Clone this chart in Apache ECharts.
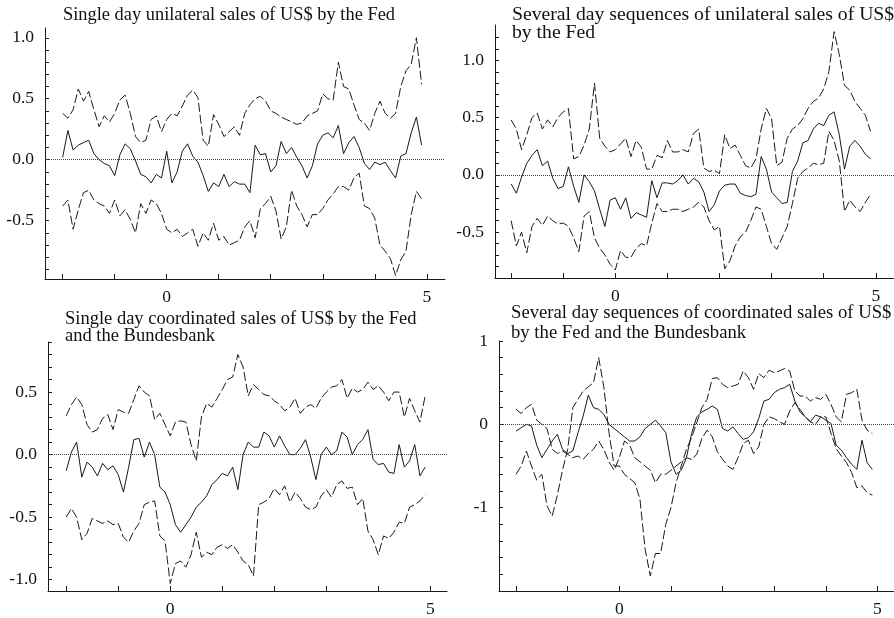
<!DOCTYPE html>
<html>
<head>
<meta charset="utf-8">
<script src="https://cdn.jsdelivr.net/npm/echarts@6/dist/echarts.min.js"></script>
<style>
  html, body { margin: 0; padding: 0; background: #fff; }
  #chart { width: 894px; height: 618px; }
</style>
</head>
<body>
<div id="chart"></div>
<script>
// x grid shared by all four panels
const xs = [-2.0,-1.9,-1.8,-1.7,-1.6,-1.5,-1.4,-1.3,-1.2,-1.1,
  -1.0,-0.9,-0.8,-0.7,-0.6,-0.5,-0.4,-0.3,-0.2,-0.1,
  0.0,0.1,0.2,0.3,0.4,0.5,0.6,0.7,0.8,0.9,
  1.0,1.1,1.2,1.3,1.4,1.5,1.6,1.7,1.8,1.9,
  2.0,2.1,2.2,2.3,2.4,2.5,2.6,2.7,2.8,2.9,
  3.0,3.1,3.2,3.3,3.4,3.5,3.6,3.7,3.8,3.9,
  4.0,4.1,4.2,4.3,4.4,4.5,4.6,4.7,4.8,4.9];

// panel 1: single day unilateral
const p1Mid = [0.02,0.24,0.08,0.12,0.14,0.16,0.05,0.0,-0.03,-0.05,
  -0.13,0.04,0.13,0.09,-0.01,-0.12,-0.14,-0.19,-0.12,-0.15,
  0.07,-0.19,-0.1,0.07,0.13,0.03,-0.02,-0.13,-0.26,-0.19,
  -0.22,-0.12,-0.22,-0.18,-0.2,-0.2,-0.27,0.12,0.04,0.05,
  -0.1,-0.05,0.15,0.05,0.1,0.02,-0.05,-0.15,-0.05,0.13,
  0.2,0.22,0.18,0.28,0.05,0.14,0.19,0.1,-0.03,-0.08,
  -0.02,-0.04,-0.02,-0.09,-0.15,0.03,0.05,0.22,0.35,0.12];
const p1Hi = [0.38,0.34,0.41,0.58,0.48,0.56,0.41,0.27,0.36,0.31,
  0.38,0.49,0.53,0.38,0.19,0.14,0.16,0.33,0.36,0.23,
  0.33,0.38,0.36,0.44,0.53,0.57,0.51,0.16,0.11,0.37,
  0.29,0.19,0.23,0.27,0.2,0.38,0.45,0.5,0.52,0.48,
  0.4,0.38,0.35,0.33,0.31,0.29,0.3,0.36,0.38,0.4,
  0.54,0.5,0.49,0.8,0.6,0.58,0.45,0.33,0.3,0.24,
  0.38,0.48,0.38,0.34,0.38,0.6,0.73,0.78,1.0,0.62];
const p1Lo = [-0.38,-0.33,-0.57,-0.41,-0.27,-0.25,-0.33,-0.36,-0.38,-0.44,
  -0.33,-0.46,-0.41,-0.49,-0.6,-0.36,-0.44,-0.33,-0.36,-0.44,
  -0.57,-0.6,-0.57,-0.63,-0.6,-0.57,-0.71,-0.6,-0.66,-0.52,
  -0.66,-0.63,-0.7,-0.68,-0.66,-0.55,-0.5,-0.64,-0.4,-0.36,
  -0.3,-0.42,-0.65,-0.55,-0.25,-0.38,-0.45,-0.55,-0.45,-0.45,
  -0.4,-0.33,-0.28,-0.22,-0.22,-0.25,-0.15,-0.11,-0.38,-0.4,
  -0.48,-0.7,-0.75,-0.81,-0.95,-0.82,-0.75,-0.45,-0.26,-0.32];

// panel 2: several day unilateral
const p2Mid = [-0.08,-0.16,-0.02,0.1,0.17,0.22,0.08,0.12,-0.03,-0.12,
  -0.1,0.07,-0.1,-0.24,0.0,-0.06,-0.14,-0.3,-0.45,-0.22,
  -0.2,-0.3,-0.2,-0.38,-0.33,-0.35,-0.37,-0.05,-0.2,-0.07,
  -0.07,-0.08,-0.05,0.0,-0.08,-0.03,-0.06,-0.15,-0.32,-0.26,
  -0.14,-0.09,-0.08,-0.08,-0.16,-0.18,-0.19,-0.17,0.16,0.05,
  -0.15,-0.2,-0.25,-0.24,0.03,0.12,0.28,0.3,0.4,0.45,
  0.43,0.52,0.55,0.35,0.05,0.25,0.3,0.25,0.18,0.14];
const p2Hi = [0.48,0.4,0.22,0.35,0.5,0.54,0.4,0.48,0.42,0.5,
  0.55,0.58,0.14,0.16,0.26,0.4,0.8,0.32,0.25,0.2,
  0.22,0.27,0.32,0.16,0.3,0.24,0.05,0.05,0.17,0.15,
  0.3,0.2,0.2,0.22,0.2,0.36,0.4,0.06,0.03,0.04,
  0.01,0.35,0.23,0.26,0.17,0.08,0.06,0.14,0.4,0.58,
  0.49,0.08,0.11,0.32,0.4,0.43,0.49,0.58,0.64,0.67,
  0.75,0.9,1.25,1.05,0.78,0.74,0.64,0.58,0.52,0.38];
const p2Lo = [-0.4,-0.62,-0.5,-0.68,-0.45,-0.38,-0.44,-0.36,-0.4,-0.43,
  -0.42,-0.45,-0.55,-0.67,-0.36,-0.32,-0.55,-0.64,-0.7,-0.78,
  -0.83,-0.66,-0.72,-0.72,-0.64,-0.6,-0.62,-0.42,-0.25,-0.32,
  -0.32,-0.3,-0.3,-0.32,-0.3,-0.28,-0.24,-0.28,-0.4,-0.48,
  -0.45,-0.82,-0.75,-0.62,-0.54,-0.5,-0.4,-0.28,-0.3,-0.45,
  -0.6,-0.65,-0.55,-0.45,-0.25,-0.03,0.03,0.06,0.1,0.09,
  0.1,0.38,0.3,0.12,-0.32,-0.22,-0.28,-0.32,-0.24,-0.17];

// panel 3: single day coordinated
const p3Mid = [-0.13,0.02,0.1,-0.18,-0.06,-0.1,-0.17,-0.07,-0.12,-0.09,
  -0.16,-0.3,-0.1,0.12,0.13,-0.02,0.1,0.0,-0.26,-0.3,
  -0.4,-0.56,-0.62,-0.56,-0.5,-0.42,-0.38,-0.33,-0.24,-0.2,
  -0.15,-0.17,-0.1,-0.28,0.0,0.1,0.06,0.06,0.18,0.15,
  0.06,0.15,0.07,0.0,0.0,0.05,0.12,-0.02,-0.2,0.0,
  0.06,0.0,0.03,0.18,0.14,0.0,0.08,0.12,0.2,-0.04,
  -0.08,-0.07,-0.14,-0.15,0.08,-0.1,-0.05,0.08,-0.17,-0.1];
const p3Hi = [0.31,0.4,0.46,0.4,0.24,0.18,0.2,0.29,0.32,0.2,
  0.36,0.34,0.33,0.44,0.55,0.5,0.47,0.28,0.33,0.24,
  0.15,0.26,0.27,0.26,0.08,-0.05,0.3,0.41,0.38,0.45,
  0.52,0.6,0.62,0.8,0.7,0.47,0.56,0.52,0.48,0.47,
  0.43,0.4,0.35,0.38,0.45,0.33,0.38,0.4,0.37,0.45,
  0.5,0.54,0.55,0.6,0.45,0.53,0.5,0.52,0.58,0.52,
  0.55,0.5,0.43,0.5,0.5,0.3,0.45,0.35,0.26,0.47];
const p3Lo = [-0.5,-0.43,-0.5,-0.68,-0.63,-0.51,-0.53,-0.55,-0.53,-0.56,
  -0.55,-0.66,-0.7,-0.61,-0.55,-0.4,-0.38,-0.37,-0.65,-0.69,
  -1.03,-0.87,-0.85,-0.9,-0.8,-0.62,-0.82,-0.78,-0.8,-0.74,
  -0.72,-0.75,-0.72,-0.78,-0.85,-0.88,-0.97,-0.4,-0.38,-0.35,
  -0.27,-0.32,-0.25,-0.38,-0.3,-0.35,-0.42,-0.44,-0.42,-0.33,
  -0.28,-0.34,-0.24,-0.21,-0.27,-0.26,-0.4,-0.35,-0.61,-0.68,
  -0.8,-0.65,-0.67,-0.62,-0.54,-0.55,-0.42,-0.4,-0.37,-0.32];

// panel 4: several day coordinated
const p4Mid = [-0.08,-0.04,0.0,-0.02,-0.25,-0.4,-0.3,-0.2,-0.12,-0.3,
  -0.35,-0.32,-0.1,0.1,0.35,0.2,0.18,0.12,0.0,-0.05,
  -0.1,-0.15,-0.2,-0.2,-0.15,-0.05,0.0,0.05,-0.02,-0.1,
  -0.45,-0.6,-0.55,-0.4,-0.11,0.09,0.15,0.18,0.22,0.18,
  -0.05,-0.08,-0.03,-0.11,-0.18,-0.16,-0.09,0.07,0.28,0.3,
  0.38,0.42,0.44,0.48,0.28,0.15,0.09,0.03,0.11,0.09,
  0.05,0.01,-0.25,-0.31,-0.4,-0.48,-0.54,-0.19,-0.46,-0.54];
const p4Hi = [-0.6,-0.5,-0.32,-0.5,-0.67,-0.6,-0.98,-1.1,-0.85,-0.55,
  -0.3,0.2,0.3,0.4,0.45,0.5,0.8,0.45,-0.1,-0.5,
  -0.5,-0.6,-0.65,-0.7,-0.9,-1.5,-1.82,-1.55,-1.55,-1.2,
  -1.0,-0.7,-0.5,-0.3,-0.16,0.02,0.2,0.3,0.55,0.56,
  0.48,0.44,0.46,0.48,0.64,0.56,0.42,0.61,0.56,0.65,
  0.62,0.64,0.67,0.64,0.4,0.34,0.34,0.28,0.32,0.3,
  0.36,0.24,0.09,0.03,0.36,0.38,0.42,0.05,-0.07,-0.11];
const p4Lo = [0.18,0.13,0.2,0.24,0.05,0.0,-0.05,-0.3,-0.35,-0.32,
  -0.36,-0.4,-0.38,-0.42,-0.35,-0.3,-0.2,-0.3,-0.45,-0.55,
  -0.4,-0.2,-0.25,-0.4,-0.45,-0.5,-0.55,-0.7,-0.6,-0.6,
  -0.55,-0.5,-0.45,-0.4,-0.42,-0.36,-0.17,-0.07,-0.15,-0.33,
  -0.42,-0.5,-0.54,-0.4,-0.23,-0.19,-0.35,-0.27,0.0,0.09,
  0.07,0.03,0.0,0.16,0.26,0.18,0.09,0.03,0.0,0.09,
  0.09,-0.11,-0.29,-0.38,-0.46,-0.58,-0.76,-0.74,-0.82,-0.85];

// axis ticks and labels
const xTicks = [-2,-1,0,1,2,3,4,5];
const xLabels = [0,5];
const y1Ticks = [-0.9,-0.8,-0.7,-0.6,-0.5,-0.4,-0.3,-0.2,-0.1,0,0.1,0.2,0.3,0.4,0.5,0.6,0.7,0.8,0.9,1.0];
const y1Labels = [-0.5,0,0.5,1.0];
const y2Ticks = [-0.8,-0.7,-0.6,-0.5,-0.4,-0.3,-0.2,-0.1,0,0.1,0.2,0.3,0.4,0.5,0.6,0.7,0.8,0.9,1.0,1.1,1.2];
const y2Labels = [-0.5,0,0.5,1.0];
const y3Ticks = [-1.0,-0.9,-0.8,-0.7,-0.6,-0.5,-0.4,-0.3,-0.2,-0.1,0,0.1,0.2,0.3,0.4,0.5,0.6,0.7,0.8,0.9];
const y3Labels = [-1.0,-0.5,0,0.5];
const y4Ticks = [-1.8,-1.6,-1.4,-1.2,-1.0,-0.8,-0.6,-0.4,-0.2,0,0.2,0.4,0.6,0.8,1.0];
const y4Labels = [-1,0,1];

const titles = [
  "Single day unilateral sales of US$ by the Fed",
  "Several day sequences of unilateral sales of US$\nby the Fed",
  "Single day coordinated sales of US$ by the Fed\nand the Bundesbank",
  "Several day sequences of coordinated sales of US$\nby the Fed and the Bundesbank"
];

const FONT = "Liberation Serif";
const INK = "#1a1a1a";

const grids = [
  { left: 45, top: 28, width: 400, height: 251 },
  { left: 495, top: 25, width: 400, height: 253 },
  { left: 48, top: 342, width: 399, height: 254 },
  { left: 499, top: 341, width: 400, height: 255 }
];
const xRanges = [[-2.34, 5.35], [-2.31, 5.35], [-2.35, 5.32], [-2.33, 5.32]];
const yRanges = [[-0.978, 1.08], [-0.90, 1.308], [-1.09, 0.90], [-2.0, 1.0]];
const yTickSets = [y1Ticks, y2Ticks, y3Ticks, y4Ticks];
const yLabelSets = [y1Labels, y2Labels, y3Labels, y4Labels];

function xAxis(i) {
  return {
    type: "value", gridIndex: i, min: xRanges[i][0], max: xRanges[i][1],
    splitLine: { show: false },
    axisLine: { onZero: false, lineStyle: { color: INK, width: 1 } },
    axisTick: { inside: true, length: 5, customValues: xTicks, lineStyle: { color: INK } },
    axisLabel: { customValues: xLabels, margin: 9, fontSize: 17.5, fontFamily: FONT, color: "#111" }
  };
}

function yAxis(i) {
  return {
    type: "value", gridIndex: i, min: yRanges[i][0], max: yRanges[i][1],
    splitLine: { show: false },
    axisLine: { onZero: false, lineStyle: { color: INK, width: 1 } },
    axisTick: { inside: true, length: 4, customValues: yTickSets[i], lineStyle: { color: INK } },
    axisLabel: {
      customValues: yLabelSets[i], margin: 11, fontSize: 17.5, fontFamily: FONT, color: "#111",
      formatter: v => i === 3 ? String(Math.round(v)) : v.toFixed(1)
    }
  };
}

function pairs(arr) {
  return xs.map((x, k) => [x, arr[k]]);
}

function panelSeries(i, mid, hi, lo) {
  const base = { type: "line", xAxisIndex: i, yAxisIndex: i, showSymbol: false, silent: true };
  return [
    Object.assign({}, base, {
      data: pairs(mid),
      lineStyle: { color: INK, width: 1 },
      markLine: {
        silent: true, symbol: ["none", "none"], label: { show: false },
        lineStyle: { type: "dotted", color: "#444", width: 1 },
        data: [{ yAxis: 0 }]
      }
    }),
    Object.assign({}, base, { data: pairs(hi), lineStyle: { color: INK, width: 1, type: [9, 3] } }),
    Object.assign({}, base, { data: pairs(lo), lineStyle: { color: INK, width: 1, type: [9, 3] } })
  ];
}

// title placement and size per panel (the scans differ slightly)
const titlePos = [
  { left: 63, top: 6, size: 18.4, lh: 19 },
  { left: 512, top: 6, size: 19.7, lh: 18 },
  { left: 65, top: 310, size: 18.5, lh: 17.5 },
  { left: 511, top: 303, size: 18.7, lh: 20 }
];

const chart = echarts.init(document.getElementById("chart"));
chart.setOption({
  backgroundColor: "#fff",
  animation: false,
  title: titles.map((t, i) => ({
    text: t, left: titlePos[i].left, top: titlePos[i].top, padding: 0,
    textStyle: {
      fontFamily: FONT, fontWeight: "normal", color: "#111",
      fontSize: titlePos[i].size, lineHeight: titlePos[i].lh
    }
  })),
  grid: grids,
  xAxis: [0, 1, 2, 3].map(xAxis),
  yAxis: [0, 1, 2, 3].map(yAxis),
  series: [].concat(
    panelSeries(0, p1Mid, p1Hi, p1Lo),
    panelSeries(1, p2Mid, p2Hi, p2Lo),
    panelSeries(2, p3Mid, p3Hi, p3Lo),
    panelSeries(3, p4Mid, p4Hi, p4Lo)
  )
});
</script>
</body>
</html>
